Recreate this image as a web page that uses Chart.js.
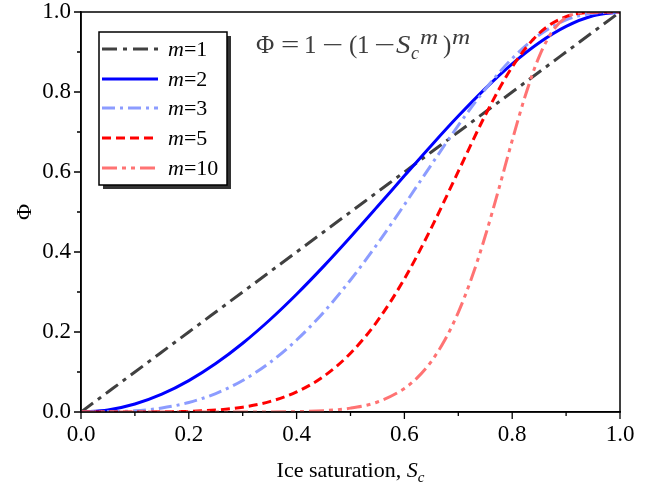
<!DOCTYPE html>
<html>
<head>
<meta charset="utf-8">
<script src="https://cdn.jsdelivr.net/npm/chart.js@4/dist/chart.umd.min.js"></script>
<style>
  html, body { margin: 0; padding: 0; background: #fff; }
  #wrap { width: 658px; height: 493px; position: relative; }
</style>
</head>
<body>
<div id="wrap"><canvas id="c"></canvas></div>
<script>
// Ice saturation grid shared by m = 1, 2, 3, 5
const sc = [0, 0.05, 0.1, 0.15, 0.2, 0.25, 0.3, 0.35, 0.4, 0.45, 0.5,
            0.55, 0.6, 0.65, 0.7, 0.75, 0.8, 0.85, 0.9, 0.95, 1];
const phiM1 = [0, 0.05, 0.1, 0.15, 0.2, 0.25, 0.3, 0.35, 0.4, 0.45, 0.5,
               0.55, 0.6, 0.65, 0.7, 0.75, 0.8, 0.85, 0.9, 0.95, 1];
const phiM2 = [0, 0.0050, 0.0199, 0.0445, 0.0784, 0.1211, 0.1719, 0.2300, 0.2944, 0.3640, 0.4375,
               0.5135, 0.5904, 0.6665, 0.7399, 0.8086, 0.8704, 0.9230, 0.9639, 0.9905, 1];
const phiM3 = [0, 0.0004, 0.0030, 0.0101, 0.0238, 0.0461, 0.0788, 0.1232, 0.1800, 0.2492, 0.3301,
               0.4207, 0.5181, 0.6183, 0.7164, 0.8068, 0.8838, 0.9425, 0.9801, 0.9971, 1];
const phiM5 = [0, 0, 0, 0.0004, 0.0016, 0.0049, 0.0121, 0.0260, 0.0502, 0.0889, 0.1468,
               0.2276, 0.3329, 0.4603, 0.6015, 0.7419, 0.8626, 0.9467, 0.9885, 0.9994, 1];
// m = 10 rises steeply, so it gets its own denser grid
const sc10 = [0, 0.2, 0.3, 0.4, 0.45, 0.5, 0.55, 0.6, 0.625, 0.65, 0.675, 0.7, 0.725,
              0.75, 0.775, 0.8, 0.825, 0.85, 0.875, 0.9, 0.925, 0.95, 1];
const phiM10 = [0, 0, 0.0001, 0.0010, 0.0034, 0.0097, 0.0250, 0.0588, 0.0873, 0.1268, 0.1799, 0.2492, 0.3360,
                0.4399, 0.5569, 0.6789, 0.7938, 0.8884, 0.9528, 0.9862, 0.9978, 0.9999, 1];

const mValues = [1, 2, 3, 5, 10];
const xTicks = [0, 0.2, 0.4, 0.6, 0.8, 1.0];
const yTicks = [0, 0.2, 0.4, 0.6, 0.8, 1.0];

const FONT = '"Liberation Serif", "Times New Roman", serif';

const pts = (xs, ys) => xs.map((x, i) => ({ x, y: ys[i] }));

const series = [
  { m: 1,  data: pts(sc, phiM1),    color: '#404040', dash: [15, 6, 4, 6] },
  { m: 2,  data: pts(sc, phiM2),    color: '#0000ff', dash: [] },
  { m: 3,  data: pts(sc, phiM3),    color: '#8c9cff', dash: [13, 5, 3, 5] },
  { m: 5,  data: pts(sc, phiM5),    color: '#ff0000', dash: [9, 5] },
  { m: 10, data: pts(sc10, phiM10), color: '#ff7373', dash: [15, 5, 4, 5, 4, 5] },
];

// Text pieces laid out left to right (italic, sub/superscript).
function setFont(ctx, r) { ctx.font = (r.it ? 'italic ' : '') + r.size + 'px ' + FONT; }
function runsWidth(ctx, runs) {
  let w = 0;
  runs.forEach(r => { setFont(ctx, r); w += ctx.measureText(r.t).width; });
  return w;
}
function drawRuns(ctx, runs, x, y) {
  runs.forEach(r => {
    setFont(ctx, r);
    ctx.fillText(r.t, x, y + (r.dy || 0));
    x += ctx.measureText(r.t).width;
  });
}

// Formula glyphs, each placed at its own left edge (sx widens a glyph).
const formula = [
  { t: 'Φ', x: 256, size: 25 },
  { t: '=', x: 281, size: 25, sx: 1.3 },
  { t: '1', x: 304, size: 25 },
  { t: '−', x: 322, size: 25, sx: 1.5 },
  { t: '(', x: 349, size: 25 },
  { t: '1', x: 357, size: 25 },
  { t: '−', x: 374, size: 25, sx: 1.5 },
  { t: 'S', x: 396, size: 25, it: true, sx: 1.15 },
  { t: 'c', x: 411, size: 18, it: true, dy: 6 },
  { t: 'm', x: 420, size: 21, it: true, dy: -9, sx: 1.2 },
  { t: ')', x: 443, size: 25 },
  { t: 'm', x: 452, size: 21, it: true, dy: -9, sx: 1.2 },
];

const decor = {
  id: 'decor',
  afterDraw(chart) {
    const { ctx, chartArea: a, scales: { x, y } } = chart;
    ctx.save();

    // frame round the plot
    ctx.strokeStyle = '#000';
    ctx.lineWidth = 1.5;
    ctx.setLineDash([]);
    ctx.strokeRect(a.left, a.top, a.right - a.left, a.bottom - a.top);

    // outward major and minor ticks
    ctx.lineWidth = 1.3;
    for (let i = 0; i <= 10; i++) {
      const v = i / 10;
      const len = i % 2 === 0 ? 7 : 4;
      const px = x.getPixelForValue(v);
      const py = y.getPixelForValue(v);
      ctx.beginPath();
      ctx.moveTo(px, a.bottom); ctx.lineTo(px, a.bottom + len);
      ctx.moveTo(a.left, py); ctx.lineTo(a.left - len, py);
      ctx.stroke();
    }

    // legend box with drop shadow
    const bx = 99, by = 32, bw = 128, bh = 153;
    ctx.fillStyle = '#333';
    ctx.fillRect(bx + 4, by + 4, bw, bh);
    ctx.fillStyle = '#fff';
    ctx.fillRect(bx, by, bw, bh);
    ctx.strokeStyle = '#000';
    ctx.lineWidth = 1.5;
    ctx.strokeRect(bx, by, bw, bh);

    const rowY = [49, 79, 108, 138, 168];
    ctx.textBaseline = 'alphabetic';
    ctx.textAlign = 'left';
    series.forEach((s, i) => {
      ctx.strokeStyle = s.color;
      ctx.lineWidth = 3;
      ctx.setLineDash(s.dash);
      ctx.beginPath();
      ctx.moveTo(102, rowY[i]);
      ctx.lineTo(158, rowY[i]);
      ctx.stroke();
      ctx.setLineDash([]);
      ctx.fillStyle = '#000';
      drawRuns(ctx, [
        { t: 'm', it: true, size: 22 },
        { t: '=' + mValues[i], size: 22 },
      ], 168, rowY[i] + 7);
    });

    // formula
    ctx.fillStyle = '#3c3c3c';
    formula.forEach(g => {
      setFont(ctx, g);
      ctx.save();
      ctx.translate(g.x, 53 + (g.dy || 0));
      ctx.scale(g.sx || 1, 1);
      ctx.fillText(g.t, 0, 0);
      ctx.restore();
    });

    // x axis title
    ctx.fillStyle = '#000';
    const xt = [
      { t: 'Ice saturation, ', size: 22 },
      { t: 'S', it: true, size: 22 },
      { t: 'c', it: true, size: 15, dy: 5 },
    ];
    const w = runsWidth(ctx, xt);
    drawRuns(ctx, xt, (a.left + a.right) / 2 - w / 2, 477);

    // y axis title, rotated
    ctx.translate(25, (a.top + a.bottom) / 2);
    ctx.rotate(-Math.PI / 2);
    ctx.textAlign = 'center';
    ctx.textBaseline = 'middle';
    ctx.font = '22px ' + FONT;
    ctx.fillText('Φ', 0, 0);

    ctx.restore();
  }
};

new Chart(document.getElementById('c'), {
  type: 'line',
  data: {
    datasets: series.map((s, i) => ({
      label: 'm=' + s.m,
      data: s.data,
      borderColor: s.color,
      borderWidth: 3,
      borderDash: s.dash,
      pointRadius: 0,
      cubicInterpolationMode: 'monotone',
      fill: false,
      order: 5 - i,
    })),
  },
  options: {
    responsive: true,
    maintainAspectRatio: false,
    animation: false,
    layout: { padding: { top: 12, right: 38, left: 0, bottom: 0 } },
    plugins: { legend: { display: false }, tooltip: { enabled: false } },
    scales: {
      x: {
        type: 'linear',
        min: 0, max: 1,
        afterBuildTicks: sc => { sc.ticks = xTicks.map(v => ({ value: v })); },
        afterFit: sc => { sc.height = 81; sc.paddingLeft = 0; sc.paddingRight = 0; },
        grid: { display: true, drawOnChartArea: false, drawTicks: false },
        border: { display: true, color: '#000', width: 1.5 },
        ticks: {
          padding: 9,
          color: '#000',
          font: { family: FONT, size: 23 },
          maxRotation: 0,
          callback: v => v.toFixed(1),
        },
      },
      y: {
        type: 'linear',
        min: 0, max: 1,
        afterBuildTicks: sc => { sc.ticks = yTicks.map(v => ({ value: v })); },
        afterFit: sc => { sc.width = 81; sc.paddingTop = 0; sc.paddingBottom = 0; },
        grid: { display: true, drawOnChartArea: false, drawTicks: false },
        border: { display: true, color: '#000', width: 1.5 },
        ticks: {
          padding: 10,
          color: '#000',
          font: { family: FONT, size: 23 },
          callback: v => v.toFixed(1),
        },
      },
    },
  },
  plugins: [decor],
});
</script>
</body>
</html>
